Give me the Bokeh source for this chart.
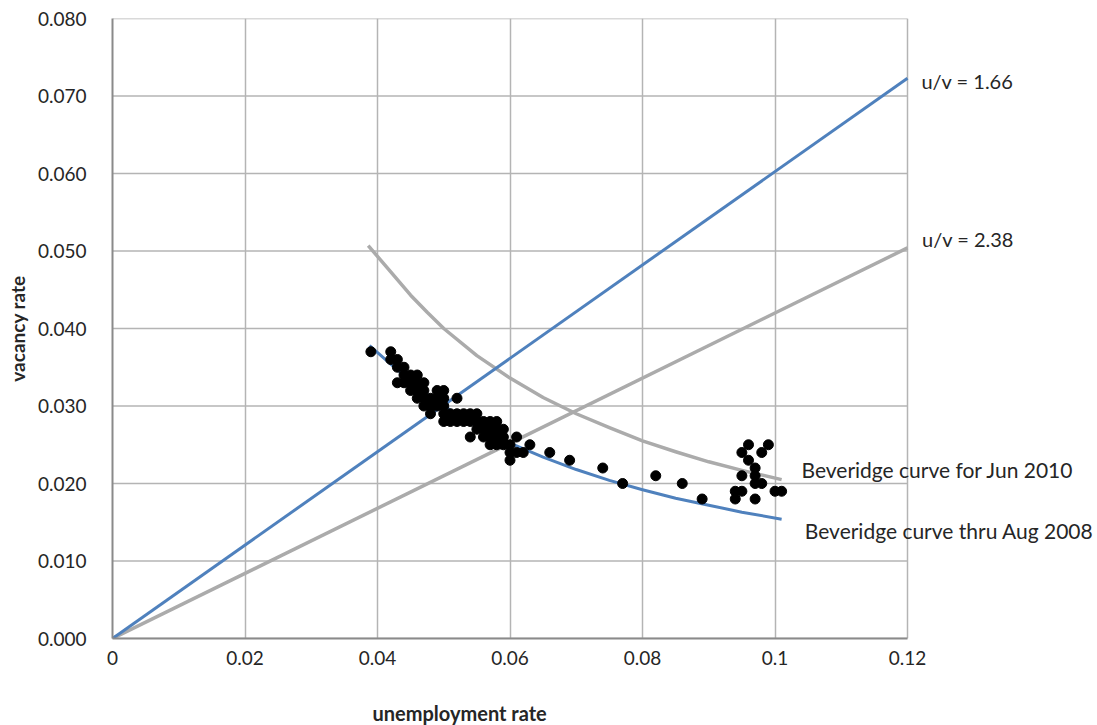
from bokeh.plotting import figure
from bokeh.models import FixedTicker, NumeralTickFormatter, CustomJSTickFormatter, Label, Range1d, Title
from bokeh.embed import file_html
from bokeh.resources import INLINE

# ---- data ----
x_ticks = [0.0, 0.02, 0.04, 0.06, 0.08, 0.10, 0.12]
y_ticks = [0.0, 0.01, 0.02, 0.03, 0.04, 0.05, 0.06, 0.07, 0.08]

uv166_u = [0.0, 0.12]
uv166_v = [0.0, 0.0723]
uv238_u = [0.0, 0.12]
uv238_v = [0.0, 0.0504]

jun2010_u = [0.0386, 0.042, 0.045, 0.0475, 0.05, 0.055, 0.06, 0.065, 0.07, 0.075, 0.08, 0.085, 0.09, 0.095, 0.101]
jun2010_v = [0.0507, 0.0473, 0.0443, 0.0421, 0.0400, 0.0365, 0.0336, 0.0311, 0.0290, 0.0272, 0.0255, 0.0241, 0.0228, 0.0217, 0.0205]

aug2008_u = [0.0388, 0.042, 0.045, 0.0475, 0.05, 0.055, 0.06, 0.065, 0.07, 0.075, 0.08, 0.085, 0.09, 0.095, 0.101]
aug2008_v = [0.0378, 0.0354, 0.0332, 0.0315, 0.0300, 0.0274, 0.0252, 0.0234, 0.0218, 0.0204, 0.0192, 0.0181, 0.0172, 0.0163, 0.0154]

obs_u = [0.039, 0.042, 0.042, 0.043, 0.043, 0.044, 0.044, 0.043, 0.044, 0.045, 0.045, 0.046,
         0.045, 0.046, 0.046, 0.047, 0.047, 0.047, 0.046, 0.047, 0.048, 0.048, 0.048, 0.049,
         0.050, 0.049, 0.050, 0.049, 0.050, 0.050, 0.051, 0.052, 0.050, 0.051, 0.052, 0.053,
         0.054, 0.055, 0.052, 0.053, 0.054, 0.054, 0.055, 0.055, 0.056, 0.056, 0.057, 0.058,
         0.056, 0.057, 0.057, 0.058, 0.058, 0.059, 0.057, 0.058, 0.059, 0.059, 0.060, 0.061,
         0.060, 0.060, 0.061, 0.062, 0.063, 0.066, 0.069, 0.074, 0.077, 0.082, 0.086, 0.089,
         0.094, 0.094, 0.095, 0.095, 0.095, 0.096, 0.096, 0.097, 0.097, 0.097, 0.097, 0.098,
         0.098, 0.099, 0.100, 0.101]
obs_v = [0.037, 0.037, 0.036, 0.036, 0.035, 0.035, 0.034, 0.033, 0.033, 0.033, 0.034, 0.034,
         0.032, 0.033, 0.032, 0.033, 0.032, 0.031, 0.031, 0.030, 0.031, 0.030, 0.029, 0.032,
         0.032, 0.031, 0.031, 0.030, 0.030, 0.029, 0.029, 0.031, 0.028, 0.028, 0.029, 0.029,
         0.029, 0.029, 0.028, 0.028, 0.028, 0.026, 0.027, 0.028, 0.028, 0.027, 0.028, 0.028,
         0.026, 0.026, 0.027, 0.027, 0.026, 0.027, 0.025, 0.025, 0.026, 0.025, 0.025, 0.026,
         0.024, 0.023, 0.024, 0.024, 0.025, 0.024, 0.023, 0.022, 0.020, 0.021, 0.020, 0.018,
         0.018, 0.019, 0.019, 0.021, 0.024, 0.025, 0.023, 0.022, 0.021, 0.020, 0.018, 0.024,
         0.020, 0.025, 0.019, 0.019]

# ---- styling / layout ----
FONT = "Lato"
BLUE = "#4f81bd"
GRAY_LINE = "#ababab"
GRID = "#b4b4b4"
AXIS = "#8a8a8a"
TEXT = "#262626"

W, H = 1097, 725
LEFT, TOP, PLOT_W, PLOT_H = 112, 18, 795, 620
frame_w = W - LEFT
x_end = x_ticks[-1] * frame_w / PLOT_W   # frame reaches the right edge so outside labels show

p = figure(width=W, height=H, output_backend="svg", toolbar_location=None,
           x_range=Range1d(0, x_end), y_range=Range1d(0, y_ticks[-1]),
           min_border_left=LEFT, min_border_right=0, min_border_top=TOP,
           min_border_bottom=H - TOP - PLOT_H)
p.outline_line_color = None

p.xaxis.ticker = FixedTicker(ticks=x_ticks)
p.yaxis.ticker = FixedTicker(ticks=y_ticks)
p.xaxis.bounds = (x_ticks[0], x_ticks[-1])
p.xaxis.formatter = CustomJSTickFormatter(code="""
    let s = tick.toFixed(2);
    s = s.replace(/0+$/, '').replace(/\\.$/, '');
    return s;
""")
p.yaxis.formatter = NumeralTickFormatter(format="0.000")

for ax in (p.xaxis, p.yaxis):
    ax.axis_line_color = AXIS
    ax.axis_line_width = 2
    ax.major_tick_line_color = None
    ax.minor_tick_line_color = None
    ax.major_label_text_font = FONT
    ax.major_label_text_font_size = "19px"
    ax.major_label_text_color = TEXT
p.xaxis.major_label_standoff = 6
p.yaxis.major_label_standoff = 20

# blank spacer label: pushes the (offset) x title further down
p.xaxis.axis_label = " "
p.xaxis.axis_label_text_font_size = "10px"
p.xaxis.axis_label_standoff = 17

p.yaxis.axis_label = "vacancy rate"
p.yaxis.axis_label_text_font = FONT
p.yaxis.axis_label_text_font_size = "19px"
p.yaxis.axis_label_text_font_style = "bold"
p.yaxis.axis_label_text_color = TEXT
p.yaxis.axis_label_standoff = 6

p.xgrid.ticker = FixedTicker(ticks=x_ticks)
p.xgrid.grid_line_color = GRID
p.xgrid.grid_line_width = 1.5
p.ygrid.visible = False
# horizontal gridlines only across the data area (0 .. last x tick)
p.segment(x0=[x_ticks[0]] * len(y_ticks), x1=[x_ticks[-1]] * len(y_ticks),
          y0=y_ticks, y1=y_ticks, line_color=GRID, line_width=1.5)

p.line(uv238_u, uv238_v, line_color=GRAY_LINE, line_width=3.5, line_join="round")
p.line(jun2010_u, jun2010_v, line_color=GRAY_LINE, line_width=3.5, line_join="round")
p.line(uv166_u, uv166_v, line_color=BLUE, line_width=3, line_join="round")
p.line(aug2008_u, aug2008_v, line_color=BLUE, line_width=3, line_join="round")
p.scatter(obs_u, obs_v, size=10, marker="circle", fill_color="black", line_color="black")

def add_label(x, y, text, size):
    p.add_layout(Label(x=x, y=y, text=text, text_font=FONT, text_font_size=size,
                       text_color=TEXT, text_baseline="middle", text_align="left"))

add_label(0.1221, 0.0720, "u/v = 1.66", "20px")
add_label(0.1222, 0.0516, "u/v = 2.38", "20px")
add_label(0.1040, 0.0218, "Beveridge curve for Jun 2010", "21px")
add_label(0.1045, 0.0140, "Beveridge curve thru Aug 2008", "21px")

xt = Title(text="unemployment rate", align="left", offset=260, standoff=0,
           text_font=FONT, text_font_size="20px", text_font_style="bold", text_color=TEXT)
p.add_layout(xt, "below")

open("out.html", "w").write(file_html(p, INLINE))
